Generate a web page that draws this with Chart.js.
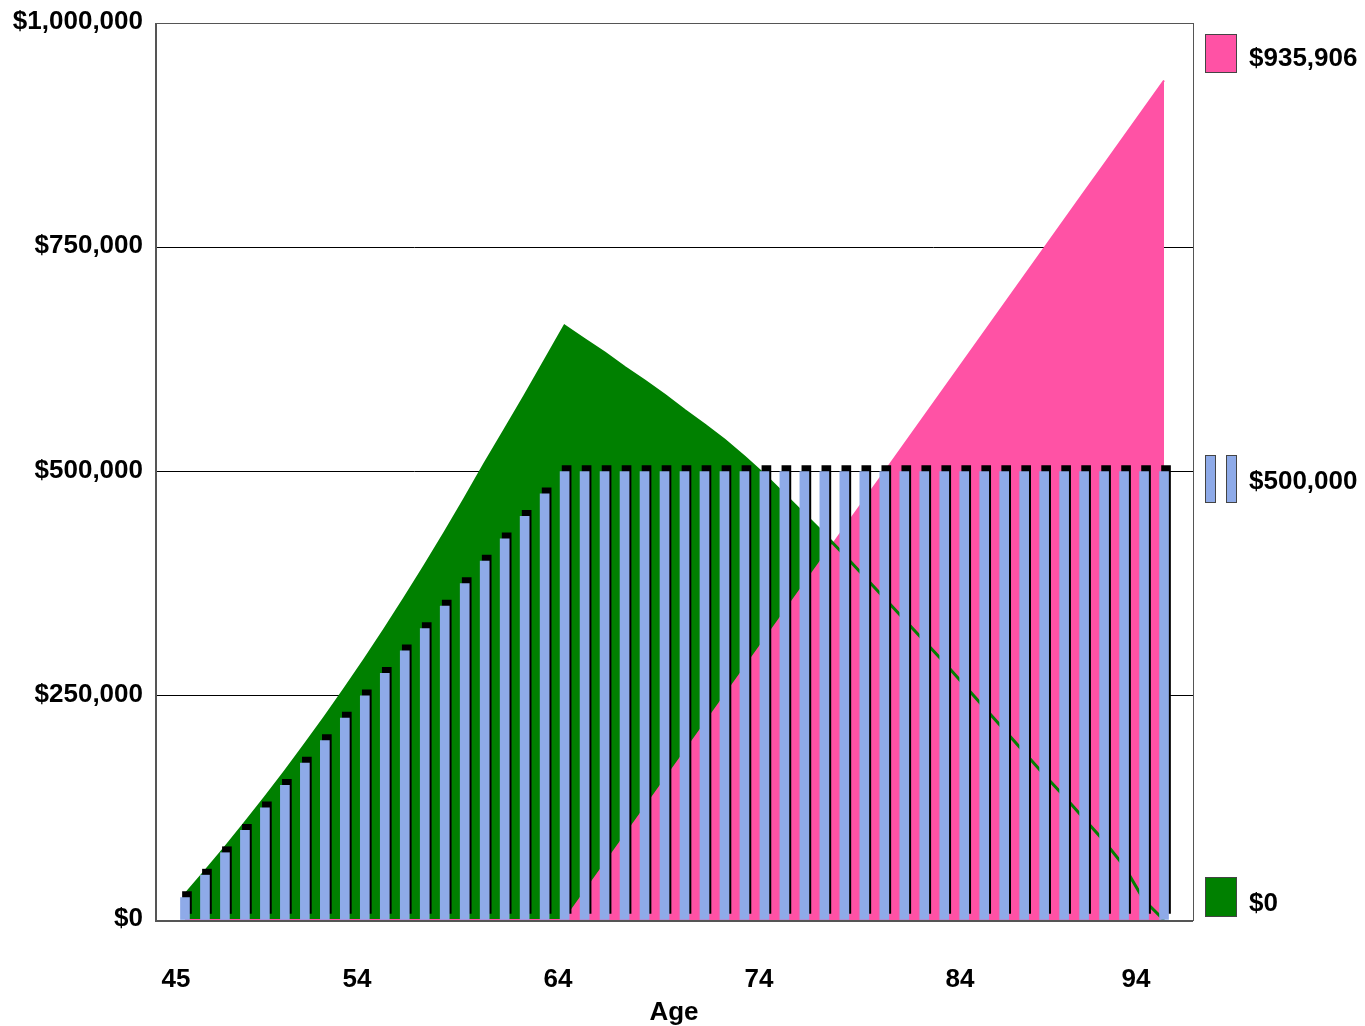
<!DOCTYPE html>
<html>
<head>
<meta charset="utf-8">
<title>Age chart</title>
<script src="https://cdn.jsdelivr.net/npm/chart.js@4.4.1/dist/chart.umd.min.js"></script>
<style>
  body { margin: 0; background: #fff; font-family: "Liberation Sans", Arial, sans-serif; }
  #wrap { position: relative; width: 1365px; height: 1026px; }
  canvas { position: absolute; left: 0; top: 0; }
  .key { position: absolute; border: 1px solid #444; }
  .keyText { position: absolute; left: 1249px; font-weight: bold; font-size: 26px; line-height: 30px; color: #000; }
</style>
</head>
<body>
<div id="wrap">
  <canvas id="myChart" width="1365" height="1026"></canvas>
  <div id="legend"></div>
</div>
<script>
// Daten //
const ages = [45, 46, 47, 48, 49, 50, 51, 52, 53, 54, 55, 56, 57, 58, 59, 60, 61, 62, 63, 64,
    65, 66, 67, 68, 69, 70, 71, 72, 73, 74, 75, 76, 77, 78, 79, 80, 81, 82, 83, 84,
    85, 86, 87, 88, 89, 90, 91, 92, 93, 94];

// blaue Balken
const contributions = [25000, 50000, 75000, 100000, 125000, 150000, 175000, 200000, 225000, 250000,
    275000, 300000, 325000, 350000, 375000, 400000, 425000, 450000, 475000, 500000,
    500000, 500000, 500000, 500000, 500000, 500000, 500000, 500000, 500000, 500000,
    500000, 500000, 500000, 500000, 500000, 500000, 500000, 500000, 500000, 500000,
    500000, 500000, 500000, 500000, 500000, 500000, 500000, 500000, 500000, 500000];

// grüne Fläche
const balance = [28000, 53800, 80400, 107800, 136000, 165100, 195100, 225900, 257700, 290400,
    324100, 358800, 394600, 431400, 469300, 508400, 546000, 584000, 623000, 662000,
    647000, 632000, 616000, 601000, 585000, 568000, 552000, 535000, 516000, 496000,
    474000, 452000, 430000, 407000, 383000, 359000, 335000, 311000, 287000, 262000,
    237000, 212000, 187000, 162000, 138000, 113000, 88000, 60000, 22000, 0];

// pinke Fläche
const withdrawn = [0, 0, 0, 0, 0, 0, 0, 0, 0, 0, 0, 0, 0, 0, 0, 0, 0, 0, 0, 0,
    31200, 62400, 93600, 124800, 156000, 187200, 218400, 249600, 280800, 312000,
    343200, 374400, 405600, 436800, 468000, 499200, 530400, 561500, 592700, 623900,
    655100, 686300, 717500, 748700, 779900, 811100, 842300, 873500, 904700, 935906];

const yTickValues = [0, 250000, 500000, 750000, 1000000];
const yTickLabels = ['$0', '$250,000', '$500,000', '$750,000', '$1,000,000'];
const xTickLabels = ['45', '54', '64', '74', '84', '94'];
const legendLabels = ['$935,906', '$500,000', '$0'];

const PINK = '#ff52a5';
const GREEN = '#008000';
const BLUE = '#8eaae8';

Chart.defaults.font.family = '"Liberation Sans", Arial, sans-serif';
Chart.defaults.color = '#000';

// schwarzer Schatten hinter den Balken
const barShadow = {
    id: 'barShadow',
    beforeDatasetDraw(chart, args) {
        if (args.meta.type !== 'bar') return;
        const ctx = chart.ctx;
        ctx.save();
        ctx.shadowColor = '#000';
        ctx.shadowBlur = 0;
        ctx.shadowOffsetX = 2;
        ctx.shadowOffsetY = -6;
    },
    afterDatasetDraw(chart, args) {
        if (args.meta.type !== 'bar') return;
        chart.ctx.restore();
    }
};

// Rahmen um die Plotfläche
const frame = {
    id: 'frame',
    afterDatasetsDraw(chart) {
        const ctx = chart.ctx;
        const a = chart.chartArea;
        ctx.save();
        ctx.strokeStyle = '#555';
        ctx.lineWidth = 1;
        ctx.strokeRect(a.left + 0.5, a.top + 0.5, a.right - a.left, a.bottom - a.top);
        ctx.lineWidth = 2;
        ctx.beginPath();
        ctx.moveTo(a.left + 1, a.top);
        ctx.lineTo(a.left + 1, a.bottom + 1);
        ctx.lineTo(a.right, a.bottom + 1);
        ctx.stroke();
        ctx.restore();
    }
};

const chart = new Chart(document.getElementById('myChart'), {
    type: 'bar',
    data: {
        labels: ages,
        datasets: [{
            type: 'bar',
            data: contributions,
            backgroundColor: BLUE,
            borderWidth: 0,
            barThickness: 9,
            order: 0
        }, {
            type: 'line',
            data: balance,
            borderColor: GREEN,
            borderWidth: 3,
            fill: false,
            pointRadius: 0,
            tension: 0,
            order: 1
        }, {
            type: 'line',
            data: withdrawn,
            borderColor: PINK,
            backgroundColor: PINK,
            borderWidth: 2,
            fill: 'origin',
            pointRadius: 0,
            tension: 0,
            order: 2
        }, {
            type: 'line',
            data: balance,
            borderColor: GREEN,
            backgroundColor: GREEN,
            borderWidth: 1,
            fill: 'origin',
            pointRadius: 0,
            tension: 0,
            order: 3
        }]
    },
    options: {
        responsive: false,
        animation: false,
        layout: { padding: { top: 23, right: 172, left: 0, bottom: 0 } },
        plugins: {
            legend: { display: false },
            tooltip: { enabled: false }
        },
        scales: {
            x: {
                type: 'linear',
                min: 43.5,
                max: 95.45,
                offset: false,
                bounds: 'data',
                grid: { display: false, offset: false },
                border: { display: false },
                afterBuildTicks: s => {
                    s.ticks = [44.55, 53.61, 63.67, 73.73, 83.79, 92.6].map(v => ({ value: v }));
                },
                afterFit: s => {
                    s.height = 106;
                    s.paddingLeft = 0;
                    s.paddingRight = 0;
                },
                ticks: {
                    autoSkip: false,
                    maxRotation: 0,
                    padding: 36,
                    font: { size: 26, weight: 'bold' },
                    callback: (v, i) => xTickLabels[i]
                },
                title: {
                    display: true,
                    text: 'Age',
                    font: { size: 26, weight: 'bold', lineHeight: 1 },
                    padding: { top: 0, bottom: 0 }
                }
            },
            y: {
                min: 0,
                max: 1000000,
                afterBuildTicks: s => {
                    s.ticks = yTickValues.map(v => ({ value: v }));
                },
                afterFit: s => {
                    s.width = 155;
                    s.paddingTop = 0;
                    s.paddingBottom = 0;
                },
                grid: { color: '#000', lineWidth: 1, drawTicks: false },
                border: { display: false },
                ticks: {
                    padding: 12,
                    labelOffset: -1,
                    font: { size: 26, weight: 'bold' },
                    callback: (v, i) => yTickLabels[i]
                }
            }
        }
    },
    plugins: [barShadow, frame]
});

// Legende rechts
function addBox(left, top, w, h, color) {
    const d = document.createElement('div');
    d.className = 'key';
    d.style.left = left + 'px';
    d.style.top = top + 'px';
    d.style.width = w + 'px';
    d.style.height = h + 'px';
    d.style.background = color;
    document.getElementById('legend').appendChild(d);
}
function addText(top, text) {
    const d = document.createElement('div');
    d.className = 'keyText';
    d.style.top = top + 'px';
    d.textContent = text;
    document.getElementById('legend').appendChild(d);
}

addBox(1205, 34, 30, 37, PINK);
addText(42, legendLabels[0]);

addBox(1205, 455, 9, 46, BLUE);
addBox(1226, 455, 9, 46, BLUE);
addText(465, legendLabels[1]);

addBox(1205, 877, 30, 38, GREEN);
addText(887, legendLabels[2]);
</script>
</body>
</html>
